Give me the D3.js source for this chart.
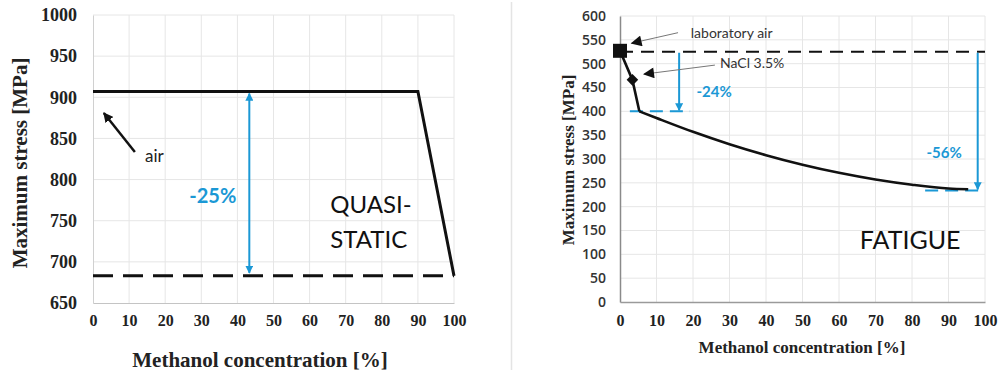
<!DOCTYPE html>
<html>
<head>
<meta charset="utf-8">
<script src="https://cdn.jsdelivr.net/npm/d3@7"></script>
<style>
  body { margin: 0; background: #fff; }
  svg { display: block; }
</style>
</head>
<body>
<svg id="chart" width="1001" height="371"></svg>
<script>
// x ticks shared by both charts
const xTicks = [0, 10, 20, 30, 40, 50, 60, 70, 80, 90, 100];
const leftYTicks = [650, 700, 750, 800, 850, 900, 950, 1000];
const rightYTicks = [0, 50, 100, 150, 200, 250, 300, 350, 400, 450, 500, 550, 600];

// quasi-static curve (methanol %, stress)
const staticX = [0, 90, 100];
const staticY = [907, 907, 683];
const staticFloor = 683;
const staticArrowX = 43.3;

// fatigue curve: first 3 points are straight segments, rest is smooth
const fatigueX = [0, 3.4, 5.3, 10, 20, 30, 40, 50, 60, 70, 80, 90, 95.4];
const fatigueY = [527, 466, 400, 386, 357, 331, 308, 288, 271, 257, 246, 238, 236.5];
const fatigueAir = 525;
const naclLevel = 400;
const methanolLevel = 234;

const blue = '#1b98d5';
const SERIF = '"Liberation Serif", "Times New Roman", serif';
const SANS = 'Lato, "Open Sans", sans-serif';

function addMarkers(svg) {
  let defs = svg.append('defs');
  defs.append('marker')
    .attr('id', 'blueHead')
    .attr('viewBox', '0 0 10 10')
    .attr('refX', 9).attr('refY', 5)
    .attr('markerWidth', 4).attr('markerHeight', 4)
    .attr('markerUnits', 'strokeWidth')
    .attr('orient', 'auto-start-reverse')
    .append('path').attr('d', 'M0,0 L10,5 L0,10 Z').attr('fill', blue);
  defs.append('marker')
    .attr('id', 'blackHead')
    .attr('viewBox', '0 0 10 10')
    .attr('refX', 9).attr('refY', 5)
    .attr('markerWidth', 4).attr('markerHeight', 4)
    .attr('markerUnits', 'strokeWidth')
    .attr('orient', 'auto')
    .append('path').attr('d', 'M0,0 L10,5 L0,10 Z').attr('fill', '#111');
  defs.append('marker')
    .attr('id', 'thinHead')
    .attr('viewBox', '0 0 10 10')
    .attr('refX', 9).attr('refY', 5)
    .attr('markerWidth', 12).attr('markerHeight', 11)
    .attr('markerUnits', 'userSpaceOnUse')
    .attr('orient', 'auto')
    .append('path').attr('d', 'M0,0 L10,5 L0,10 Z').attr('fill', '#111');
}

function grid(g, xScale, yScale, yTicks) {
  g.selectAll('.vgrid')
    .data(xTicks.slice(1))
    .enter()
    .append('line')
    .attr('x1', (d) => xScale(d)).attr('x2', (d) => xScale(d))
    .attr('y1', yScale.range()[0]).attr('y2', yScale.range()[1])
    .attr('stroke', '#e6e6e6').attr('stroke-width', 1);
  g.selectAll('.hgrid')
    .data(yTicks.slice(1))
    .enter()
    .append('line')
    .attr('x1', xScale(0)).attr('x2', xScale(100))
    .attr('y1', (d) => yScale(d)).attr('y2', (d) => yScale(d))
    .attr('stroke', '#e6e6e6').attr('stroke-width', 1);
}

// style() on each label so nothing from the axis group wins
function tickFont(axisG, family, size, weight, color) {
  axisG.selectAll('text')
    .style('font-family', family)
    .style('font-size', size + 'px')
    .style('font-weight', weight)
    .attr('fill', color);
}

function makeChart1(svg) {
  let xScale = d3.scaleLinear().domain([0, 100]).range([93, 454]);
  let yScale = d3.scaleLinear().domain([650, 1000]).range([303, 15]);
  let g = svg.append('g');

  grid(g, xScale, yScale, leftYTicks);

  let yAxis = d3.axisLeft(yScale).tickValues(leftYTicks).tickFormat(d3.format('d'))
    .tickSize(0).tickPadding(16);
  let xAxis = d3.axisBottom(xScale).tickValues(xTicks).tickFormat(d3.format('d'))
    .tickSize(0).tickPadding(12);
  let ya = g.append('g').attr('transform', `translate(${xScale(0)},0)`).call(yAxis);
  let xa = g.append('g').attr('transform', `translate(0,${yScale(650)})`).call(xAxis);
  ya.select('.domain').attr('stroke', '#d0d0d0');
  xa.select('.domain').attr('stroke', '#c4c4c4');
  tickFont(ya, SERIF, 18, 'bold', '#222');
  tickFont(xa, SERIF, 16, 'bold', '#222');

  // floor (dashed) and the quasi-static curve
  g.append('line')
    .attr('x1', xScale(0)).attr('x2', xScale(100))
    .attr('y1', yScale(staticFloor)).attr('y2', yScale(staticFloor))
    .attr('stroke', '#111').attr('stroke-width', 3)
    .attr('stroke-dasharray', '20,10');

  let line = d3.line().x((d) => xScale(d[0])).y((d) => yScale(d[1]));
  g.append('path')
    .datum(staticX.map((x, i) => [x, staticY[i]]))
    .attr('d', line)
    .attr('fill', 'none').attr('stroke', '#111').attr('stroke-width', 3);

  // -25% double arrow
  g.append('line')
    .attr('x1', xScale(staticArrowX)).attr('x2', xScale(staticArrowX))
    .attr('y1', yScale(staticY[0]) + 2).attr('y2', yScale(staticFloor) - 3)
    .attr('stroke', blue).attr('stroke-width', 2)
    .attr('marker-start', 'url(#blueHead)').attr('marker-end', 'url(#blueHead)');
  g.append('text').attr('font-family', SANS)
    .attr('x', xScale(33.2)).attr('y', yScale(771))
    .attr('text-anchor', 'middle').attr('font-size', 20).attr('font-weight', 'bold')
    .attr('fill', blue).text('-25%');

  // air note
  g.append('line')
    .attr('x1', xScale(11.6)).attr('y1', yScale(833.5))
    .attr('x2', xScale(3.0)).attr('y2', yScale(881))
    .attr('stroke', '#111').attr('stroke-width', 2.5)
    .attr('marker-end', 'url(#blackHead)');
  g.append('text').attr('font-family', SANS)
    .attr('x', xScale(14.4)).attr('y', yScale(821))
    .attr('font-size', 17).attr('fill', '#222').text('air');

  g.append('text').attr('font-family', SANS)
    .attr('x', xScale(65.7)).attr('y', yScale(759))
    .attr('font-size', 24).attr('fill', '#111').text('QUASI-');
  g.append('text').attr('font-family', SANS)
    .attr('x', xScale(65.7)).attr('y', yScale(717))
    .attr('font-size', 24).attr('fill', '#111').text('STATIC');

  // titles
  g.append('text').attr('font-family', SERIF).attr('font-weight', 'bold').attr('fill', '#222')
    .attr('x', 260).attr('y', 367)
    .attr('text-anchor', 'middle').attr('font-size', 21)
    .text('Methanol concentration [%]');
  g.append('text').attr('font-family', SERIF).attr('font-weight', 'bold').attr('fill', '#222')
    .attr('transform', 'translate(27,163) rotate(-90)')
    .attr('text-anchor', 'middle').attr('font-size', 21)
    .text('Maximum stress [MPa]');
}

function makeChart2(svg) {
  let xScale = d3.scaleLinear().domain([0, 100]).range([620, 985]);
  let yScale = d3.scaleLinear().domain([0, 600]).range([302, 16]);
  let g = svg.append('g');

  grid(g, xScale, yScale, rightYTicks);

  let yAxis = d3.axisLeft(yScale).tickValues(rightYTicks).tickSize(0).tickPadding(14);
  let xAxis = d3.axisBottom(xScale).tickValues(xTicks).tickSize(0).tickPadding(13);
  let ya = g.append('g').attr('transform', `translate(${xScale(0)},0)`).call(yAxis);
  let xa = g.append('g').attr('transform', `translate(0,${yScale(0)})`).call(xAxis);
  ya.select('.domain').attr('stroke', '#8a8a8a').attr('stroke-width', 1.5);
  xa.select('.domain').attr('stroke', '#9a9a9a').attr('stroke-width', 1.5);
  tickFont(ya, '"Open Sans", sans-serif', 14, 600, '#333');
  tickFont(xa, SERIF, 16, 'bold', '#222');

  // laboratory air level
  g.append('line')
    .attr('x1', xScale(0)).attr('x2', xScale(100))
    .attr('y1', yScale(fatigueAir)).attr('y2', yScale(fatigueAir))
    .attr('stroke', '#111').attr('stroke-width', 2)
    .attr('stroke-dasharray', '13,8');

  // blue reference levels
  g.append('line')
    .attr('x1', xScale(2.7)).attr('x2', xScale(19.2))
    .attr('y1', yScale(naclLevel)).attr('y2', yScale(naclLevel))
    .attr('stroke', blue).attr('stroke-width', 2)
    .attr('stroke-dasharray', '13,7');
  g.append('line')
    .attr('x1', xScale(83.6)).attr('x2', xScale(100))
    .attr('y1', yScale(methanolLevel)).attr('y2', yScale(methanolLevel))
    .attr('stroke', blue).attr('stroke-width', 2)
    .attr('stroke-dasharray', '13,7');

  // fatigue curve: straight drop then smooth decay
  let pts = fatigueX.map((x, i) => [x, fatigueY[i]]);
  let straight = d3.line().x((d) => xScale(d[0])).y((d) => yScale(d[1]));
  let smooth = d3.line().x((d) => xScale(d[0])).y((d) => yScale(d[1]))
    .curve(d3.curveMonotoneX);
  g.append('path')
    .datum(pts.slice(0, 3))
    .attr('d', straight)
    .attr('fill', 'none').attr('stroke', '#111').attr('stroke-width', 2.6)
    .attr('stroke-linejoin', 'round');
  g.append('path')
    .datum(pts.slice(2))
    .attr('d', smooth)
    .attr('fill', 'none').attr('stroke', '#111').attr('stroke-width', 2.6);

  // markers: square for air, diamond for NaCl
  g.append('rect')
    .attr('x', xScale(fatigueX[0]) - 7).attr('y', yScale(fatigueY[0]) - 7)
    .attr('width', 14).attr('height', 14).attr('fill', '#111');
  g.append('path')
    .attr('d', d3.symbol(d3.symbolDiamond2, 85)())
    .attr('transform', `translate(${xScale(fatigueX[1])},${yScale(fatigueY[1])})`)
    .attr('fill', '#111');

  // drop arrows
  g.append('line')
    .attr('x1', xScale(16.2)).attr('x2', xScale(16.2))
    .attr('y1', yScale(fatigueAir) + 1).attr('y2', yScale(naclLevel) - 1)
    .attr('stroke', blue).attr('stroke-width', 2)
    .attr('marker-end', 'url(#blueHead)');
  g.append('line')
    .attr('x1', xScale(98)).attr('x2', xScale(98))
    .attr('y1', yScale(fatigueAir) + 1).attr('y2', yScale(methanolLevel) - 1)
    .attr('stroke', blue).attr('stroke-width', 2)
    .attr('marker-end', 'url(#blueHead)');
  g.append('text').attr('font-family', SANS)
    .attr('x', xScale(25.8)).attr('y', yScale(430))
    .attr('text-anchor', 'middle').attr('font-size', 15).attr('font-weight', 'bold')
    .attr('fill', blue).text('-24%');
  g.append('text').attr('font-family', SANS)
    .attr('x', xScale(88.8)).attr('y', yScale(302))
    .attr('text-anchor', 'middle').attr('font-size', 15).attr('font-weight', 'bold')
    .attr('fill', blue).text('-56%');

  // notes
  g.append('line')
    .attr('x1', xScale(15.9)).attr('y1', yScale(565))
    .attr('x2', xScale(3.2)).attr('y2', yScale(543))
    .attr('stroke', '#777').attr('stroke-width', 1)
    .attr('marker-end', 'url(#thinHead)');
  g.append('text').attr('font-family', SANS)
    .attr('x', xScale(19.4)).attr('y', yScale(554))
    .attr('font-size', 14).attr('fill', '#333').text('laboratory air');
  g.append('line')
    .attr('x1', xScale(26)).attr('y1', yScale(497))
    .attr('x2', xScale(6.6)).attr('y2', yScale(478))
    .attr('stroke', '#777').attr('stroke-width', 1)
    .attr('marker-end', 'url(#thinHead)');
  g.append('text').attr('font-family', SANS)
    .attr('x', xScale(27.4)).attr('y', yScale(491))
    .attr('font-size', 14).attr('fill', '#333').text('NaCl 3.5%');

  g.append('text').attr('font-family', SANS)
    .attr('x', xScale(79.5)).attr('y', yScale(111))
    .attr('text-anchor', 'middle').attr('font-size', 25).attr('fill', '#111')
    .text('FATIGUE');

  // titles
  g.append('text').attr('font-family', SERIF).attr('font-weight', 'bold').attr('fill', '#222')
    .attr('x', 802).attr('y', 353)
    .attr('text-anchor', 'middle').attr('font-size', 17)
    .text('Methanol concentration [%]');
  g.append('text').attr('font-family', SERIF).attr('font-weight', 'bold').attr('fill', '#222')
    .attr('transform', 'translate(574,160) rotate(-90)')
    .attr('text-anchor', 'middle').attr('font-size', 17)
    .text('Maximum stress [MPa]');
}

window.onload = function () {
  let svg = d3.select('#chart');
  addMarkers(svg);

  // thin separator between the two panels
  svg.append('line')
    .attr('x1', 511.5).attr('x2', 511.5).attr('y1', 2).attr('y2', 370)
    .attr('stroke', '#e4e4e4').attr('stroke-width', 1.5);

  makeChart1(svg);
  makeChart2(svg);
}
</script>
</body>
</html>
